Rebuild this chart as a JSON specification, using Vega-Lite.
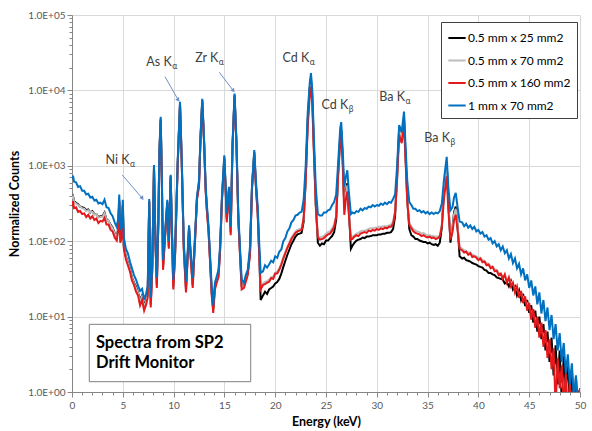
{
"$schema": "https://vega.github.io/schema/vega-lite/v6.json",
"width": 508, "height": 377,
"autosize": "none",
"padding": {"left": 72, "top": 15, "right": 12, "bottom": 39},
"background": "white",
"config": {"view": {"stroke": null}, "font": "Lato"},
"datasets": {
"b": [{"e":0,"v":661},{"e":0.1,"v":741},{"e":0.2,"v":617},{"e":0.4,"v":603},{"e":0.6,"v":525},{"e":0.8,"v":537},{"e":1,"v":468},{"e":1.2,"v":468},{"e":1.4,"v":417},{"e":1.6,"v":427},{"e":1.8,"v":380},{"e":2,"v":389},{"e":2.2,"v":347},{"e":2.4,"v":355},{"e":2.6,"v":316},{"e":2.8,"v":324},{"e":3,"v":309},{"e":3.2,"v":355},{"e":3.4,"v":282},{"e":3.6,"v":275},{"e":3.8,"v":234},{"e":4,"v":214},{"e":4.2,"v":178},{"e":4.4,"v":155},{"e":4.55,"v":200},{"e":4.65,"v":417},{"e":4.75,"v":141},{"e":4.9,"v":158},{"e":5,"v":355},{"e":5.1,"v":112},{"e":5.3,"v":79.4},{"e":5.5,"v":69.2},{"e":5.7,"v":53.7},{"e":5.9,"v":43.7},{"e":6.1,"v":35.5},{"e":6.3,"v":30.9},{"e":6.5,"v":25.7},{"e":6.7,"v":21.9},{"e":6.9,"v":23.4},{"e":7.1,"v":16.6},{"e":7.3,"v":20.4},{"e":7.45,"v":25.1},{"e":7.6,"v":363},{"e":7.75,"v":17.8},{"e":7.9,"v":50.1},{"e":8.07,"v":1023},{"e":8.2,"v":126},{"e":8.35,"v":33.1},{"e":8.5,"v":200},{"e":8.6,"v":1585},{"e":8.73,"v":4467},{"e":8.85,"v":631},{"e":8.96,"v":56.2},{"e":9.15,"v":126},{"e":9.38,"v":355},{"e":9.53,"v":100},{"e":9.71,"v":759},{"e":9.85,"v":126},{"e":9.97,"v":30.9},{"e":10.15,"v":79.4},{"e":10.4,"v":1122},{"e":10.63,"v":7079},{"e":10.8,"v":1259},{"e":11,"v":100},{"e":11.22,"v":28.8},{"e":11.4,"v":79.4},{"e":11.52,"v":162},{"e":11.66,"v":79.4},{"e":11.88,"v":32.4},{"e":12.1,"v":112},{"e":12.3,"v":398},{"e":12.5,"v":646},{"e":12.65,"v":2512},{"e":12.82,"v":7762},{"e":13,"v":2239},{"e":13.15,"v":562},{"e":13.26,"v":324},{"e":13.44,"v":158},{"e":13.58,"v":69.2},{"e":13.75,"v":25.1},{"e":13.9,"v":14.1},{"e":14.07,"v":28.2},{"e":14.24,"v":33.9},{"e":14.42,"v":41.7},{"e":14.57,"v":85.1},{"e":14.76,"v":398},{"e":14.99,"v":1380},{"e":15.12,"v":562},{"e":15.23,"v":234},{"e":15.45,"v":525},{"e":15.62,"v":155},{"e":15.8,"v":1995},{"e":16,"v":9120},{"e":16.18,"v":2239},{"e":16.37,"v":234},{"e":16.54,"v":79.4},{"e":16.7,"v":30.9},{"e":16.93,"v":28.2},{"e":17.1,"v":35.5},{"e":17.3,"v":41.7},{"e":17.52,"v":85.1},{"e":17.72,"v":562},{"e":17.94,"v":1622},{"e":18.1,"v":631},{"e":18.28,"v":288},{"e":18.42,"v":100},{"e":18.57,"v":38},{"e":18.8,"v":39.8},{"e":19,"v":47.9},{"e":19.2,"v":44.7},{"e":19.4,"v":49},{"e":19.6,"v":55},{"e":19.8,"v":52.5},{"e":20,"v":63.1},{"e":20.2,"v":60.3},{"e":20.4,"v":72.4},{"e":20.6,"v":77.6},{"e":20.8,"v":100},{"e":21,"v":110},{"e":21.2,"v":135},{"e":21.4,"v":148},{"e":21.6,"v":178},{"e":21.8,"v":191},{"e":22,"v":219},{"e":22.2,"v":224},{"e":22.4,"v":240},{"e":22.6,"v":245},{"e":22.8,"v":355},{"e":23,"v":1000},{"e":23.2,"v":5012},{"e":23.4,"v":12600},{"e":23.52,"v":17000},{"e":23.65,"v":10000},{"e":23.8,"v":2512},{"e":24,"v":501},{"e":24.2,"v":229},{"e":24.4,"v":219},{"e":24.6,"v":219},{"e":24.8,"v":240},{"e":25,"v":240},{"e":25.2,"v":257},{"e":25.4,"v":263},{"e":25.6,"v":302},{"e":25.8,"v":331},{"e":26,"v":417},{"e":26.2,"v":1122},{"e":26.4,"v":3162},{"e":26.5,"v":3802},{"e":26.65,"v":1585},{"e":26.8,"v":525},{"e":26.95,"v":708},{"e":27.1,"v":871},{"e":27.25,"v":447},{"e":27.45,"v":229},{"e":27.6,"v":240},{"e":27.8,"v":234},{"e":28,"v":251},{"e":28.2,"v":245},{"e":28.4,"v":269},{"e":28.6,"v":257},{"e":28.8,"v":275},{"e":29,"v":269},{"e":29.2,"v":288},{"e":29.4,"v":282},{"e":29.6,"v":302},{"e":29.8,"v":288},{"e":30,"v":302},{"e":30.2,"v":295},{"e":30.4,"v":316},{"e":30.6,"v":302},{"e":30.8,"v":324},{"e":31,"v":309},{"e":31.2,"v":331},{"e":31.4,"v":324},{"e":31.6,"v":363},{"e":31.8,"v":417},{"e":32,"v":1000},{"e":32.2,"v":3467},{"e":32.45,"v":2818},{"e":32.68,"v":5248},{"e":32.85,"v":1585},{"e":33,"v":631},{"e":33.2,"v":331},{"e":33.4,"v":302},{"e":33.6,"v":269},{"e":33.8,"v":269},{"e":34,"v":251},{"e":34.2,"v":257},{"e":34.4,"v":240},{"e":34.6,"v":251},{"e":34.8,"v":234},{"e":35,"v":245},{"e":35.2,"v":229},{"e":35.4,"v":240},{"e":35.6,"v":229},{"e":35.8,"v":240},{"e":36,"v":234},{"e":36.2,"v":251},{"e":36.4,"v":316},{"e":36.6,"v":631},{"e":36.88,"v":1318},{"e":37.05,"v":501},{"e":37.25,"v":257},{"e":37.45,"v":282},{"e":37.6,"v":380},{"e":37.77,"v":437},{"e":37.95,"v":282},{"e":38.15,"v":182},{"e":38.4,"v":178},{"e":38.6,"v":158},{"e":38.8,"v":170},{"e":39,"v":151},{"e":39.2,"v":162},{"e":39.4,"v":145},{"e":39.6,"v":155},{"e":39.8,"v":135},{"e":40,"v":141},{"e":40.2,"v":126},{"e":40.4,"v":132},{"e":40.6,"v":115},{"e":40.8,"v":120},{"e":41,"v":105},{"e":41.2,"v":110},{"e":41.4,"v":93.3},{"e":41.6,"v":100},{"e":41.8,"v":85.1},{"e":42,"v":91.2},{"e":42.2,"v":75.9},{"e":42.4,"v":85.1},{"e":42.6,"v":69.2},{"e":42.8,"v":75.9},{"e":43,"v":58.9},{"e":43.2,"v":67.6},{"e":43.4,"v":51.3},{"e":43.6,"v":58.9},{"e":43.8,"v":43.7},{"e":44,"v":50.1},{"e":44.2,"v":36.3},{"e":44.4,"v":43.7},{"e":44.6,"v":30.2},{"e":44.8,"v":36.3},{"e":45,"v":24},{"e":45.2,"v":30.2},{"e":45.4,"v":19.1},{"e":45.6,"v":25.1},{"e":45.8,"v":14.5},{"e":46,"v":20.9},{"e":46.2,"v":11},{"e":46.4,"v":16.6},{"e":46.6,"v":8.71},{"e":46.8,"v":13.2},{"e":47,"v":6.61},{"e":47.2,"v":10.5},{"e":47.4,"v":5.01},{"e":47.6,"v":7.94},{"e":47.8,"v":3.55},{"e":48,"v":6.03},{"e":48.2,"v":2.51},{"e":48.4,"v":4.47},{"e":48.6,"v":1.78},{"e":48.8,"v":3.16},{"e":49,"v":1.26},{"e":49.2,"v":2.4},{"e":49.4,"v":0.79},{"e":49.6,"v":1.66},{"e":49.8,"v":0.63},{"e":50,"v":1.12}],
"r": [{"e":0,"v":288},{"e":0.1,"v":339},{"e":0.2,"v":275},{"e":0.4,"v":282},{"e":0.6,"v":245},{"e":0.8,"v":251},{"e":1,"v":229},{"e":1.2,"v":234},{"e":1.4,"v":209},{"e":1.6,"v":224},{"e":1.8,"v":200},{"e":2,"v":214},{"e":2.2,"v":191},{"e":2.4,"v":200},{"e":2.6,"v":174},{"e":2.8,"v":186},{"e":3,"v":182},{"e":3.2,"v":204},{"e":3.4,"v":166},{"e":3.6,"v":166},{"e":3.8,"v":141},{"e":4,"v":135},{"e":4.2,"v":112},{"e":4.4,"v":102},{"e":4.55,"v":141},{"e":4.65,"v":331},{"e":4.75,"v":95.5},{"e":4.9,"v":112},{"e":5,"v":282},{"e":5.1,"v":79.4},{"e":5.3,"v":57.5},{"e":5.5,"v":47.9},{"e":5.7,"v":39.8},{"e":5.9,"v":30.2},{"e":6.1,"v":26.3},{"e":6.3,"v":21.4},{"e":6.5,"v":19.1},{"e":6.7,"v":14.1},{"e":6.9,"v":16.6},{"e":7.1,"v":12},{"e":7.3,"v":14.5},{"e":7.45,"v":17.8},{"e":7.6,"v":331},{"e":7.75,"v":13.2},{"e":7.9,"v":41.7},{"e":8.07,"v":933},{"e":8.2,"v":110},{"e":8.35,"v":24},{"e":8.5,"v":174},{"e":8.6,"v":1413},{"e":8.73,"v":3981},{"e":8.85,"v":550},{"e":8.96,"v":41.7},{"e":9.15,"v":107},{"e":9.38,"v":316},{"e":9.53,"v":79.4},{"e":9.71,"v":692},{"e":9.85,"v":105},{"e":9.97,"v":22.9},{"e":10.15,"v":66.1},{"e":10.4,"v":1000},{"e":10.63,"v":6310},{"e":10.8,"v":1096},{"e":11,"v":79.4},{"e":11.22,"v":20.9},{"e":11.4,"v":66.1},{"e":11.52,"v":145},{"e":11.66,"v":66.1},{"e":11.88,"v":24},{"e":12.1,"v":95.5},{"e":12.3,"v":355},{"e":12.5,"v":525},{"e":12.65,"v":2239},{"e":12.82,"v":7079},{"e":13,"v":1995},{"e":13.15,"v":479},{"e":13.26,"v":263},{"e":13.44,"v":132},{"e":13.58,"v":55},{"e":13.75,"v":19.1},{"e":13.9,"v":11.2},{"e":14.07,"v":22.9},{"e":14.24,"v":28.2},{"e":14.42,"v":33.1},{"e":14.57,"v":70.8},{"e":14.76,"v":347},{"e":14.99,"v":1230},{"e":15.12,"v":479},{"e":15.23,"v":178},{"e":15.45,"v":468},{"e":15.62,"v":120},{"e":15.8,"v":1778},{"e":16,"v":8318},{"e":16.18,"v":1995},{"e":16.37,"v":191},{"e":16.54,"v":63.1},{"e":16.7,"v":22.9},{"e":16.93,"v":24},{"e":17.1,"v":28.8},{"e":17.3,"v":35.5},{"e":17.52,"v":66.1},{"e":17.72,"v":501},{"e":17.94,"v":1445},{"e":18.1,"v":525},{"e":18.28,"v":219},{"e":18.42,"v":70.8},{"e":18.57,"v":22.9},{"e":18.8,"v":26.3},{"e":19,"v":26.9},{"e":19.2,"v":28.2},{"e":19.4,"v":28.8},{"e":19.6,"v":32.4},{"e":19.8,"v":31.6},{"e":20,"v":37.2},{"e":20.2,"v":37.2},{"e":20.4,"v":41.7},{"e":20.6,"v":49},{"e":20.8,"v":58.9},{"e":21,"v":69.2},{"e":21.2,"v":81.3},{"e":21.4,"v":93.3},{"e":21.6,"v":107},{"e":21.8,"v":117},{"e":22,"v":129},{"e":22.2,"v":135},{"e":22.4,"v":138},{"e":22.6,"v":141},{"e":22.8,"v":200},{"e":23,"v":631},{"e":23.2,"v":3311},{"e":23.4,"v":8511},{"e":23.52,"v":11220},{"e":23.65,"v":6607},{"e":23.8,"v":1585},{"e":24,"v":282},{"e":24.2,"v":112},{"e":24.4,"v":105},{"e":24.6,"v":107},{"e":24.8,"v":110},{"e":25,"v":117},{"e":25.2,"v":123},{"e":25.4,"v":126},{"e":25.6,"v":138},{"e":25.8,"v":155},{"e":26,"v":209},{"e":26.2,"v":759},{"e":26.4,"v":2138},{"e":26.5,"v":2570},{"e":26.65,"v":1000},{"e":26.8,"v":224},{"e":26.95,"v":355},{"e":27.1,"v":457},{"e":27.25,"v":224},{"e":27.45,"v":105},{"e":27.6,"v":107},{"e":27.8,"v":115},{"e":28,"v":120},{"e":28.2,"v":117},{"e":28.4,"v":126},{"e":28.6,"v":129},{"e":28.8,"v":132},{"e":29,"v":129},{"e":29.2,"v":138},{"e":29.4,"v":135},{"e":29.6,"v":141},{"e":29.8,"v":138},{"e":30,"v":145},{"e":30.2,"v":141},{"e":30.4,"v":148},{"e":30.6,"v":145},{"e":30.8,"v":151},{"e":31,"v":148},{"e":31.2,"v":155},{"e":31.4,"v":155},{"e":31.6,"v":170},{"e":31.8,"v":240},{"e":32,"v":661},{"e":32.2,"v":2570},{"e":32.45,"v":1995},{"e":32.68,"v":3467},{"e":32.85,"v":1000},{"e":33,"v":331},{"e":33.2,"v":166},{"e":33.4,"v":148},{"e":33.6,"v":135},{"e":33.8,"v":129},{"e":34,"v":126},{"e":34.2,"v":123},{"e":34.4,"v":117},{"e":34.6,"v":120},{"e":34.8,"v":115},{"e":35,"v":112},{"e":35.2,"v":115},{"e":35.4,"v":110},{"e":35.6,"v":112},{"e":35.8,"v":107},{"e":36,"v":110},{"e":36.2,"v":115},{"e":36.4,"v":158},{"e":36.6,"v":355},{"e":36.88,"v":724},{"e":37.05,"v":251},{"e":37.25,"v":105},{"e":37.45,"v":132},{"e":37.6,"v":191},{"e":37.77,"v":224},{"e":37.95,"v":141},{"e":38.15,"v":79.4},{"e":38.4,"v":75.9},{"e":38.6,"v":70.8},{"e":38.8,"v":72.4},{"e":39,"v":66.1},{"e":39.2,"v":69.2},{"e":39.4,"v":61.7},{"e":39.6,"v":63.1},{"e":39.8,"v":60.3},{"e":40,"v":56.2},{"e":40.2,"v":58.9},{"e":40.4,"v":52.5},{"e":40.6,"v":53.7},{"e":40.8,"v":47.9},{"e":41,"v":49},{"e":41.2,"v":43.7},{"e":41.4,"v":45.7},{"e":41.6,"v":39.8},{"e":41.8,"v":40.7},{"e":42,"v":35.5},{"e":42.2,"v":37.2},{"e":42.4,"v":31.6},{"e":42.6,"v":36.3},{"e":42.8,"v":28.2},{"e":43,"v":33.1},{"e":43.2,"v":25.1},{"e":43.4,"v":28.2},{"e":43.6,"v":20.9},{"e":43.8,"v":25.1},{"e":44,"v":17.8},{"e":44.2,"v":21.9},{"e":44.4,"v":15.1},{"e":44.6,"v":18.6},{"e":44.8,"v":12},{"e":45,"v":15.1},{"e":45.2,"v":9.12},{"e":45.4,"v":12.6},{"e":45.6,"v":7.08},{"e":45.8,"v":10},{"e":46,"v":5.25},{"e":46.2,"v":8.32},{"e":46.4,"v":3.98},{"e":46.6,"v":6.61},{"e":46.8,"v":2.82},{"e":47,"v":5.01},{"e":47.2,"v":2},{"e":47.4,"v":3.8},{"e":47.6,"v":0.63},{"e":47.8,"v":2.82},{"e":48,"v":1.12},{"e":48.2,"v":2.24},{"e":48.4,"v":0.63},{"e":48.6,"v":1.78},{"e":48.8,"v":0.5},{"e":49,"v":1.41},{"e":49.2,"v":0.5},{"e":49.4,"v":1.2},{"e":49.6,"v":0.5},{"e":49.8,"v":1.05},{"e":50,"v":0.5}],
"k": [{"e":0,"v":380},{"e":0.1,"v":398},{"e":0.2,"v":339},{"e":0.4,"v":324},{"e":0.6,"v":309},{"e":0.8,"v":288},{"e":1,"v":282},{"e":1.2,"v":275},{"e":1.4,"v":257},{"e":1.6,"v":263},{"e":1.8,"v":240},{"e":2,"v":251},{"e":2.2,"v":229},{"e":2.4,"v":229},{"e":2.6,"v":209},{"e":2.8,"v":214},{"e":3,"v":214},{"e":3.2,"v":240},{"e":3.4,"v":195},{"e":3.6,"v":186},{"e":3.8,"v":166},{"e":4,"v":151},{"e":4.2,"v":129},{"e":4.4,"v":112},{"e":4.55,"v":151},{"e":4.65,"v":355},{"e":4.75,"v":105},{"e":4.9,"v":120},{"e":5,"v":302},{"e":5.1,"v":85.1},{"e":5.3,"v":63.1},{"e":5.5,"v":52.5},{"e":5.7,"v":43.7},{"e":5.9,"v":33.1},{"e":6.1,"v":28.2},{"e":6.3,"v":25.1},{"e":6.5,"v":20.9},{"e":6.7,"v":16.6},{"e":6.9,"v":19.1},{"e":7.1,"v":13.8},{"e":7.3,"v":16.6},{"e":7.45,"v":20},{"e":7.6,"v":339},{"e":7.75,"v":14.5},{"e":7.9,"v":43.7},{"e":8.07,"v":955},{"e":8.2,"v":115},{"e":8.35,"v":26.3},{"e":8.5,"v":182},{"e":8.6,"v":1479},{"e":8.73,"v":4169},{"e":8.85,"v":575},{"e":8.96,"v":45.7},{"e":9.15,"v":112},{"e":9.38,"v":331},{"e":9.53,"v":85.1},{"e":9.71,"v":724},{"e":9.85,"v":112},{"e":9.97,"v":25.1},{"e":10.15,"v":70.8},{"e":10.4,"v":1047},{"e":10.63,"v":6607},{"e":10.8,"v":1148},{"e":11,"v":85.1},{"e":11.22,"v":22.9},{"e":11.4,"v":70.8},{"e":11.52,"v":151},{"e":11.66,"v":70.8},{"e":11.88,"v":26.3},{"e":12.1,"v":100},{"e":12.3,"v":372},{"e":12.5,"v":575},{"e":12.65,"v":2344},{"e":12.82,"v":7413},{"e":13,"v":2089},{"e":13.15,"v":513},{"e":13.26,"v":288},{"e":13.44,"v":141},{"e":13.58,"v":60.3},{"e":13.75,"v":20.9},{"e":13.9,"v":12.6},{"e":14.07,"v":25.1},{"e":14.24,"v":30.2},{"e":14.42,"v":36.3},{"e":14.57,"v":75.9},{"e":14.76,"v":363},{"e":14.99,"v":1288},{"e":15.12,"v":513},{"e":15.23,"v":200},{"e":15.45,"v":490},{"e":15.62,"v":132},{"e":15.8,"v":1862},{"e":16,"v":8710},{"e":16.18,"v":2089},{"e":16.37,"v":204},{"e":16.54,"v":69.2},{"e":16.7,"v":25.7},{"e":16.93,"v":25.7},{"e":17.1,"v":31.6},{"e":17.3,"v":38},{"e":17.52,"v":72.4},{"e":17.72,"v":525},{"e":17.94,"v":1514},{"e":18.1,"v":562},{"e":18.28,"v":240},{"e":18.42,"v":70.8},{"e":18.57,"v":16.6},{"e":18.8,"v":19.1},{"e":19,"v":21.4},{"e":19.2,"v":20},{"e":19.4,"v":22.9},{"e":19.6,"v":24},{"e":19.8,"v":25.1},{"e":20,"v":27.5},{"e":20.2,"v":28.8},{"e":20.4,"v":31.6},{"e":20.6,"v":37.2},{"e":20.8,"v":45.7},{"e":21,"v":55},{"e":21.2,"v":66.1},{"e":21.4,"v":77.6},{"e":21.6,"v":91.2},{"e":21.8,"v":102},{"e":22,"v":115},{"e":22.2,"v":123},{"e":22.4,"v":126},{"e":22.6,"v":129},{"e":22.8,"v":182},{"e":23,"v":661},{"e":23.2,"v":3981},{"e":23.4,"v":10720},{"e":23.52,"v":14450},{"e":23.65,"v":8318},{"e":23.8,"v":1905},{"e":24,"v":302},{"e":24.2,"v":95.5},{"e":24.4,"v":87.1},{"e":24.6,"v":93.3},{"e":24.8,"v":91.2},{"e":25,"v":102},{"e":25.2,"v":102},{"e":25.4,"v":110},{"e":25.6,"v":117},{"e":25.8,"v":132},{"e":26,"v":191},{"e":26.2,"v":832},{"e":26.4,"v":2512},{"e":26.5,"v":2951},{"e":26.65,"v":1202},{"e":26.8,"v":282},{"e":26.95,"v":457},{"e":27.1,"v":589},{"e":27.25,"v":251},{"e":27.45,"v":79.4},{"e":27.6,"v":87.1},{"e":27.8,"v":95.5},{"e":28,"v":102},{"e":28.2,"v":105},{"e":28.4,"v":107},{"e":28.6,"v":112},{"e":28.8,"v":110},{"e":29,"v":115},{"e":29.2,"v":115},{"e":29.4,"v":117},{"e":29.6,"v":120},{"e":29.8,"v":120},{"e":30,"v":120},{"e":30.2,"v":123},{"e":30.4,"v":123},{"e":30.6,"v":126},{"e":30.8,"v":126},{"e":31,"v":129},{"e":31.2,"v":129},{"e":31.4,"v":132},{"e":31.6,"v":145},{"e":31.8,"v":214},{"e":32,"v":759},{"e":32.2,"v":3162},{"e":32.45,"v":2399},{"e":32.68,"v":4266},{"e":32.85,"v":1202},{"e":33,"v":355},{"e":33.2,"v":145},{"e":33.4,"v":120},{"e":33.6,"v":115},{"e":33.8,"v":107},{"e":34,"v":107},{"e":34.2,"v":102},{"e":34.4,"v":100},{"e":34.6,"v":97.7},{"e":34.8,"v":97.7},{"e":35,"v":93.3},{"e":35.2,"v":95.5},{"e":35.4,"v":91.2},{"e":35.6,"v":89.1},{"e":35.8,"v":91.2},{"e":36,"v":87.1},{"e":36.2,"v":95.5},{"e":36.4,"v":151},{"e":36.6,"v":479},{"e":36.88,"v":1122},{"e":37.05,"v":316},{"e":37.25,"v":95.5},{"e":37.45,"v":151},{"e":37.6,"v":240},{"e":37.77,"v":288},{"e":37.95,"v":158},{"e":38.15,"v":63.1},{"e":38.4,"v":58.9},{"e":38.6,"v":60.3},{"e":38.8,"v":56.2},{"e":39,"v":55},{"e":39.2,"v":53.7},{"e":39.4,"v":51.3},{"e":39.6,"v":50.1},{"e":39.8,"v":49},{"e":40,"v":46.8},{"e":40.2,"v":45.7},{"e":40.4,"v":44.7},{"e":40.6,"v":41.7},{"e":40.8,"v":40.7},{"e":41,"v":38},{"e":41.2,"v":38},{"e":41.4,"v":36.3},{"e":41.6,"v":35.5},{"e":41.8,"v":33.1},{"e":42,"v":32.4},{"e":42.2,"v":31.6},{"e":42.4,"v":30.9},{"e":42.6,"v":27.5},{"e":42.8,"v":28.8},{"e":43,"v":25.1},{"e":43.2,"v":29.5},{"e":43.4,"v":22.9},{"e":43.6,"v":25.1},{"e":43.8,"v":19.1},{"e":44,"v":22.4},{"e":44.2,"v":16.6},{"e":44.4,"v":20},{"e":44.6,"v":13.8},{"e":44.8,"v":16.6},{"e":45,"v":11.2},{"e":45.2,"v":14.1},{"e":45.4,"v":8.32},{"e":45.6,"v":12},{"e":45.8,"v":6.31},{"e":46,"v":10},{"e":46.2,"v":5.01},{"e":46.4,"v":7.94},{"e":46.6,"v":3.55},{"e":46.8,"v":6.31},{"e":47,"v":2.51},{"e":47.2,"v":5.25},{"e":47.4,"v":1.66},{"e":47.6,"v":4.17},{"e":47.8,"v":1.26},{"e":48,"v":3.55},{"e":48.2,"v":0.79},{"e":48.4,"v":3.02},{"e":48.6,"v":1.12},{"e":48.8,"v":2.51},{"e":49,"v":0.63},{"e":49.2,"v":2},{"e":49.4,"v":0.5},{"e":49.6,"v":1.58},{"e":49.8,"v":0.5},{"e":50,"v":1.12}],
"g": [{"e":0,"v":363},{"e":0.1,"v":389},{"e":0.2,"v":331},{"e":0.4,"v":316},{"e":0.6,"v":302},{"e":0.8,"v":288},{"e":1,"v":275},{"e":1.2,"v":269},{"e":1.4,"v":251},{"e":1.6,"v":257},{"e":1.8,"v":240},{"e":2,"v":245},{"e":2.2,"v":224},{"e":2.4,"v":229},{"e":2.6,"v":204},{"e":2.8,"v":209},{"e":3,"v":209},{"e":3.2,"v":234},{"e":3.4,"v":191},{"e":3.6,"v":186},{"e":3.8,"v":162},{"e":4,"v":148},{"e":4.2,"v":126},{"e":4.4,"v":112},{"e":4.55,"v":148},{"e":4.65,"v":347},{"e":4.75,"v":102},{"e":4.9,"v":117},{"e":5,"v":295},{"e":5.1,"v":83.2},{"e":5.3,"v":61.7},{"e":5.5,"v":51.3},{"e":5.7,"v":42.7},{"e":5.9,"v":32.4},{"e":6.1,"v":27.5},{"e":6.3,"v":24},{"e":6.5,"v":20.4},{"e":6.7,"v":15.8},{"e":6.9,"v":18.6},{"e":7.1,"v":13.2},{"e":7.3,"v":15.8},{"e":7.45,"v":19.5},{"e":7.6,"v":339},{"e":7.75,"v":14.1},{"e":7.9,"v":42.7},{"e":8.07,"v":955},{"e":8.2,"v":112},{"e":8.35,"v":25.7},{"e":8.5,"v":182},{"e":8.6,"v":1479},{"e":8.73,"v":4169},{"e":8.85,"v":575},{"e":8.96,"v":44.7},{"e":9.15,"v":112},{"e":9.38,"v":331},{"e":9.53,"v":85.1},{"e":9.71,"v":708},{"e":9.85,"v":110},{"e":9.97,"v":24.5},{"e":10.15,"v":69.2},{"e":10.4,"v":1047},{"e":10.63,"v":6607},{"e":10.8,"v":1148},{"e":11,"v":85.1},{"e":11.22,"v":22.4},{"e":11.4,"v":69.2},{"e":11.52,"v":151},{"e":11.66,"v":69.2},{"e":11.88,"v":25.7},{"e":12.1,"v":100},{"e":12.3,"v":372},{"e":12.5,"v":562},{"e":12.65,"v":2344},{"e":12.82,"v":7413},{"e":13,"v":2089},{"e":13.15,"v":501},{"e":13.26,"v":282},{"e":13.44,"v":138},{"e":13.58,"v":58.9},{"e":13.75,"v":20.4},{"e":13.9,"v":12.3},{"e":14.07,"v":24.5},{"e":14.24,"v":29.5},{"e":14.42,"v":35.5},{"e":14.57,"v":74.1},{"e":14.76,"v":363},{"e":14.99,"v":1288},{"e":15.12,"v":501},{"e":15.23,"v":195},{"e":15.45,"v":490},{"e":15.62,"v":129},{"e":15.8,"v":1862},{"e":16,"v":8710},{"e":16.18,"v":2089},{"e":16.37,"v":204},{"e":16.54,"v":67.6},{"e":16.7,"v":25.1},{"e":16.93,"v":25.1},{"e":17.1,"v":30.9},{"e":17.3,"v":37.2},{"e":17.52,"v":70.8},{"e":17.72,"v":525},{"e":17.94,"v":1514},{"e":18.1,"v":550},{"e":18.28,"v":234},{"e":18.42,"v":72.4},{"e":18.57,"v":24},{"e":18.8,"v":27.5},{"e":19,"v":28.8},{"e":19.2,"v":29.5},{"e":19.4,"v":30.9},{"e":19.6,"v":33.1},{"e":19.8,"v":33.9},{"e":20,"v":38},{"e":20.2,"v":39.8},{"e":20.4,"v":43.7},{"e":20.6,"v":50.1},{"e":20.8,"v":61.7},{"e":21,"v":72.4},{"e":21.2,"v":85.1},{"e":21.4,"v":95.5},{"e":21.6,"v":112},{"e":21.8,"v":123},{"e":22,"v":135},{"e":22.2,"v":141},{"e":22.4,"v":145},{"e":22.6,"v":148},{"e":22.8,"v":200},{"e":23,"v":661},{"e":23.2,"v":3802},{"e":23.4,"v":10230},{"e":23.52,"v":13800},{"e":23.65,"v":7943},{"e":23.8,"v":1820},{"e":24,"v":302},{"e":24.2,"v":117},{"e":24.4,"v":112},{"e":24.6,"v":115},{"e":24.8,"v":117},{"e":25,"v":126},{"e":25.2,"v":132},{"e":25.4,"v":135},{"e":25.6,"v":148},{"e":25.8,"v":166},{"e":26,"v":219},{"e":26.2,"v":813},{"e":26.4,"v":2399},{"e":26.5,"v":2884},{"e":26.65,"v":1148},{"e":26.8,"v":269},{"e":26.95,"v":427},{"e":27.1,"v":550},{"e":27.25,"v":251},{"e":27.45,"v":110},{"e":27.6,"v":115},{"e":27.8,"v":120},{"e":28,"v":126},{"e":28.2,"v":129},{"e":28.4,"v":135},{"e":28.6,"v":138},{"e":28.8,"v":138},{"e":29,"v":141},{"e":29.2,"v":145},{"e":29.4,"v":148},{"e":29.6,"v":148},{"e":29.8,"v":151},{"e":30,"v":151},{"e":30.2,"v":155},{"e":30.4,"v":155},{"e":30.6,"v":158},{"e":30.8,"v":158},{"e":31,"v":158},{"e":31.2,"v":162},{"e":31.4,"v":166},{"e":31.6,"v":182},{"e":31.8,"v":251},{"e":32,"v":724},{"e":32.2,"v":3020},{"e":32.45,"v":2291},{"e":32.68,"v":4074},{"e":32.85,"v":1148},{"e":33,"v":355},{"e":33.2,"v":174},{"e":33.4,"v":158},{"e":33.6,"v":145},{"e":33.8,"v":138},{"e":34,"v":135},{"e":34.2,"v":132},{"e":34.4,"v":126},{"e":34.6,"v":129},{"e":34.8,"v":123},{"e":35,"v":120},{"e":35.2,"v":120},{"e":35.4,"v":117},{"e":35.6,"v":117},{"e":35.8,"v":115},{"e":36,"v":115},{"e":36.2,"v":120},{"e":36.4,"v":166},{"e":36.6,"v":437},{"e":36.88,"v":1000},{"e":37.05,"v":302},{"e":37.25,"v":112},{"e":37.45,"v":145},{"e":37.6,"v":224},{"e":37.77,"v":269},{"e":37.95,"v":155},{"e":38.15,"v":85.1},{"e":38.4,"v":79.4},{"e":38.6,"v":75.9},{"e":38.8,"v":74.1},{"e":39,"v":70.8},{"e":39.2,"v":70.8},{"e":39.4,"v":66.1},{"e":39.6,"v":64.6},{"e":39.8,"v":63.1},{"e":40,"v":60.3},{"e":40.2,"v":60.3},{"e":40.4,"v":56.2},{"e":40.6,"v":55},{"e":40.8,"v":51.3},{"e":41,"v":50.1},{"e":41.2,"v":46.8},{"e":41.4,"v":45.7},{"e":41.6,"v":42.7},{"e":41.8,"v":41.7},{"e":42,"v":38},{"e":42.2,"v":36.3},{"e":42.4,"v":34.7},{"e":42.6,"v":33.9},{"e":42.8,"v":30.9},{"e":43,"v":30.2},{"e":43.2,"v":28.8},{"e":43.4,"v":26.9},{"e":43.6,"v":24},{"e":43.8,"v":22.9},{"e":44,"v":20.4},{"e":44.2,"v":20},{"e":44.4,"v":18.2},{"e":44.6,"v":16.6},{"e":44.8,"v":14.8},{"e":45,"v":13.5},{"e":45.2,"v":11.2},{"e":45.4,"v":11},{"e":45.6,"v":9.12},{"e":45.8,"v":8.32},{"e":46,"v":7.59},{"e":46.2,"v":6.61},{"e":46.4,"v":5.62},{"e":46.6,"v":5.01},{"e":46.8,"v":4.17},{"e":47,"v":3.55},{"e":47.2,"v":3.02},{"e":47.4,"v":2.51},{"e":47.6,"v":2},{"e":47.8,"v":1.78},{"e":48,"v":1.41},{"e":48.2,"v":1.26},{"e":48.4,"v":1},{"e":48.6,"v":0.79},{"e":48.8,"v":0.63},{"e":49,"v":0.5},{"e":50,"v":0.5}],
"notes": [{"e":5.66,"v":1194,"t":"Ni K"},{"e":9.81,"v":23800,"t":"As K"},{"e":14.4,"v":26900,"t":"Zr K"},{"e":23.36,"v":26900,"t":"Cd K"},{"e":27.19,"v":6400,"t":"Cd K"},{"e":32.78,"v":8170,"t":"Ba K"},{"e":37.2,"v":2340,"t":"Ba K"}],
"subs": [{"e":5.66,"v":1194,"t":"α"},{"e":9.81,"v":23800,"t":"α"},{"e":14.4,"v":26900,"t":"α"},{"e":23.36,"v":26900,"t":"α"},{"e":27.19,"v":6400,"t":"β"},{"e":32.78,"v":8170,"t":"α"},{"e":37.2,"v":2340,"t":"β"}],
"arrows": [{"e":4.95,"v":755,"e2":6.92,"v2":371},{"e":9.15,"v":15200,"e2":10.46,"v2":7460},{"e":14.5,"v":17400,"e2":15.88,"v2":9910}],
"heads": [{"e":6.92,"v":371},{"e":10.46,"v":7460},{"e":15.88,"v":9910}],
"box": [{"e":1.7,"v":7.9,"e2":17.59,"v2":1.37}],
"boxtext": [{"e":2.36,"v":4.43,"t":"Spectra from SP2"},{"e":2.36,"v":2.4,"t":"Drift Monitor"}]
},
"encoding": {
"x": {"field": "e", "type": "quantitative",
 "scale": {"domain": [0, 50], "nice": false, "zero": false},
 "axis": {"title": "Energy (keV)",
  "values": [0,1,2,3,4,5,6,7,8,9,10,11,12,13,14,15,16,17,18,19,20,21,22,23,24,25,26,27,28,29,30,31,32,33,34,35,36,37,38,39,40,41,42,43,44,45,46,47,48,49,50],
  "labelExpr": "datum.value % 5 == 0 ? datum.label : ''",
  "labelOverlap": false, "labelFlush": false,
  "tickSize": {"condition": {"test": "datum.value % 5 == 0", "value": 5}, "value": 3},
  "grid": true, "gridColor": "#d9d9d9",
  "gridOpacity": {"condition": {"test": "datum.value % 5 == 0", "value": 1}, "value": 0},
  "domainColor": "#868686", "tickColor": "#868686",
  "labelColor": "#595959", "labelFontSize": 10, "labelPadding": 3,
  "titleFontSize": 12.5, "titleFontWeight": "bold", "titleColor": "#000000", "titlePadding": 5}},
"y": {"field": "v", "type": "quantitative",
 "scale": {"type": "log", "domain": [1, 100000], "nice": false},
 "axis": {"title": "Normalized Counts",
  "values": [1,2,3,4,5,6,7,8,9,10,20,30,40,50,60,70,80,90,100,200,300,400,500,600,700,800,900,1000,2000,3000,4000,5000,6000,7000,8000,9000,10000,20000,30000,40000,50000,60000,70000,80000,90000,100000],
  "labelExpr": "datum.value == 1 ? '1.0E+00' : datum.value == 10 ? '1.0E+01' : datum.value == 100 ? '1.0E+02' : datum.value == 1000 ? '1.0E+03' : datum.value == 10000 ? '1.0E+04' : datum.value == 100000 ? '1.0E+05' : ''",
  "labelOverlap": false, "labelFlush": false,
  "tickSize": {"condition": {"test": "datum.value == 1 || datum.value == 10 || datum.value == 100 || datum.value == 1000 || datum.value == 10000 || datum.value == 100000", "value": 5}, "value": 3},
  "grid": true, "gridColor": "#d9d9d9",
  "gridOpacity": {"condition": {"test": "datum.value == 1 || datum.value == 10 || datum.value == 100 || datum.value == 1000 || datum.value == 10000 || datum.value == 100000", "value": 1}, "value": 0},
  "domainColor": "#868686", "tickColor": "#868686",
  "labelColor": "#595959", "labelFontSize": 10, "labelPadding": 2,
  "titleFontSize": 12.5, "titleFontWeight": "bold", "titleColor": "#000000", "titlePadding": 6}}
},
"layer": [
{"data": {"name": "k"}, "mark": {"type": "line", "strokeWidth": 2, "clip": true},
 "encoding": {"color": {"datum": "0.5 mm x 25 mm2", "type": "nominal",
  "scale": {"domain": ["0.5 mm x 25 mm2", "0.5 mm x 70 mm2", "0.5 mm x 160 mm2", "1 mm x 70 mm2"], "range": ["#000000", "#bdbdbd", "#e3191c", "#0070c0"]},
  "legend": {"orient": "none", "legendX": 369, "legendY": 7, "title": null, "direction": "vertical",
   "symbolType": "stroke", "symbolStrokeWidth": 2, "symbolSize": 300,
   "labelFontSize": 12, "labelColor": "#000000", "labelOffset": 1, "labelLimit": 200,
   "padding": 6, "rowPadding": 6.5, "strokeColor": "#404040", "fillColor": "white"}}}},
{"data": {"name": "g"}, "mark": {"type": "line", "strokeWidth": 2, "clip": true},
 "encoding": {"color": {"datum": "0.5 mm x 70 mm2", "type": "nominal"}}},
{"data": {"name": "r"}, "mark": {"type": "line", "strokeWidth": 2, "clip": true},
 "encoding": {"color": {"datum": "0.5 mm x 160 mm2", "type": "nominal"}}},
{"data": {"name": "b"}, "mark": {"type": "line", "strokeWidth": 2, "clip": true},
 "encoding": {"color": {"datum": "1 mm x 70 mm2", "type": "nominal"}}},
{"data": {"name": "box"}, "mark": {"type": "rect", "fill": "white", "stroke": "#7f7f7f", "strokeWidth": 1},
 "encoding": {"x2": {"field": "e2"}, "y2": {"field": "v2"}}},
{"data": {"name": "boxtext"}, "mark": {"type": "text", "align": "left", "baseline": "middle", "fontSize": 16.5, "fontWeight": "bold", "color": "#000000"},
 "encoding": {"text": {"field": "t"}}},
{"data": {"name": "arrows"}, "mark": {"type": "rule", "color": "#6f8fc7", "strokeWidth": 1},
 "encoding": {"x2": {"field": "e2"}, "y2": {"field": "v2"}}},
{"data": {"name": "heads"}, "mark": {"type": "point", "shape": "triangle-down", "angle": 325, "filled": true, "size": 22, "color": "#6f8fc7", "opacity": 1},
 "encoding": {}},
{"data": {"name": "notes"}, "mark": {"type": "text", "align": "right", "baseline": "middle", "fontSize": 12.5, "color": "#404040"},
 "encoding": {"text": {"field": "t"}}},
{"data": {"name": "subs"}, "mark": {"type": "text", "align": "left", "baseline": "middle", "fontSize": 8.5, "dx": 0.5, "dy": 4, "color": "#404040"},
 "encoding": {"text": {"field": "t"}}}
]
}
